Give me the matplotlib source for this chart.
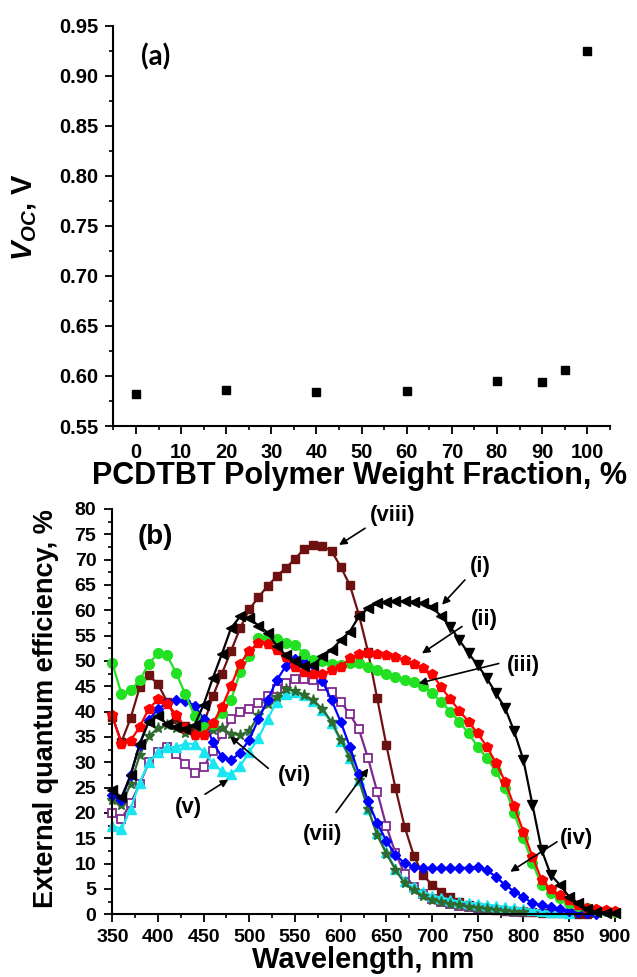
import numpy as np
import matplotlib
matplotlib.use('Agg')
import matplotlib.pyplot as plt
from matplotlib.ticker import MultipleLocator, FormatStrFormatter

plt.rcParams['font.family'] = ['Liberation Sans', 'DejaVu Sans']
plt.rcParams['font.weight'] = 'bold'
plt.rcParams['mathtext.fontset'] = 'custom'
plt.rcParams['mathtext.it'] = 'Liberation Sans:italic:bold'
plt.rcParams['mathtext.rm'] = 'Liberation Sans:bold'
plt.rcParams['mathtext.bf'] = 'Liberation Sans:bold'

# ---------------- Panel (a) data ----------------
weight_fraction = [0, 20, 40, 60, 80, 90, 95, 100]
voc = [0.582, 0.586, 0.584, 0.585, 0.595, 0.594, 0.606, 0.925]

# ---------------- Panel (b) data ----------------
wavelength = np.arange(350, 901, 10)
nan = np.nan
eqe_i = [24.5, 23.1, 27.4, 33.7, 38.0, 39.2, 37.5, 37.0, 36.6, 37.3,
         41.4, 46.6, 51.4, 56.5, 58.8, 58.4, 57.0, 55.6, 53.0, 51.1,
         49.9, 49.1, 49.2, 50.9, 52.2, 54.1, 55.8, 58.8, 60.4, 61.4,
         61.7, 61.8, 61.8, 61.7, 61.4, 60.7, 58.8, 56.8, 54.1, 51.5,
         49.2, 46.6, 43.6, 40.7, 36.1, 30.5, 21.6, 12.7, 7.8, 5.8,
         3.5, 2.2, 1.0, 0.5, 0.3, 0.2]
eqe_ii = [39.3, 33.6, 34.3, 37.0, 40.6, 42.4, 41.6, 39.4, 36.8, 35.3,
          35.4, 37.7, 40.9, 45.1, 49.5, 52.0, 53.5, 53.4, 52.2, 50.7,
          48.9, 47.8, 47.4, 47.4, 48.2, 48.9, 50.5, 51.3, 51.5, 51.4,
          51.2, 50.7, 50.1, 49.5, 48.6, 47.4, 44.9, 42.4, 40.2, 38.0,
          35.7, 33.1, 29.9, 26.2, 21.3, 16.3, 11.4, 6.8, 4.9, 3.8,
          2.8, 1.8, 1.2, 1.0, 0.9, 0.7]
eqe_iii = [49.6, 43.5, 44.2, 46.2, 49.5, 51.5, 51.1, 47.6, 43.4, 39.2,
           37.0, 37.6, 39.7, 42.3, 47.9, 50.9, 54.5, 54.7, 54.3, 53.6,
           53.2, 51.4, 50.2, 49.9, 49.5, 49.2, 49.7, 49.7, 48.9, 48.2,
           47.4, 46.8, 46.3, 45.9, 45.1, 43.6, 42.0, 40.0, 38.0, 35.7,
           33.1, 30.8, 28.2, 24.9, 19.9, 15.0, 10.1, 5.8, 4.3, 3.2,
           2.3, 1.6, 1.2, 0.9, 0.6, 0.4]
eqe_iv = [23.6, 22.5, 27.5, 33.5, 38.4, 40.5, 41.8, 42.3, 42.2, 41.2,
          38.6, 34.0, 31.0, 30.4, 31.9, 34.5, 38.5, 42.3, 46.2, 49.0,
          50.4, 49.8, 49.3, 46.0, 42.3, 38.0, 33.1, 27.7, 22.3, 18.0,
          14.5, 11.7, 10.1, 9.4, 9.1, 9.1, 9.1, 9.1, 9.1, 9.2,
          9.4, 8.7, 7.4, 5.8, 4.5, 3.4, 2.2, 1.8, 1.5, 1.0,
          0.7, 0.4, 0.2, 0.1, nan, nan]
eqe_v = [17.5, 16.8, 20.8, 26.0, 30.0, 32.0, 33.0, 33.0, 33.7, 33.6,
         32.1, 29.9, 28.2, 27.6, 29.3, 32.0, 34.8, 38.5, 42.0, 43.4,
         43.9, 43.3, 42.1, 40.3, 37.8, 34.2, 30.8, 26.5, 20.7, 16.0,
         12.3, 9.0, 6.6, 5.3, 4.4, 3.7, 3.3, 2.9, 2.5, 2.3,
         2.1, 1.9, 1.7, 1.5, 1.3, 1.1, 0.9, 0.7, 0.5, 0.4,
         0.3, nan, nan, nan, nan, nan]
eqe_vi = [22.6, 21.6, 25.7, 31.4, 35.1, 36.8, 37.3, 36.7, 35.8, 35.6,
          35.7, 36.3, 36.7, 35.6, 35.4, 36.2, 39.3, 41.5, 42.8, 44.4,
          44.1, 43.3, 42.3, 40.5, 38.0, 34.5, 31.0, 26.5, 20.8, 15.6,
          12.0, 8.8, 6.1, 4.8, 3.6, 2.9, 2.5, 2.1, 1.8, 1.5,
          1.3, 1.1, 0.9, 0.7, 0.5, 0.4, nan, nan, nan, nan,
          nan, nan, nan, nan, nan, nan]
eqe_vii = [19.9, 18.8, 21.9, 25.7, 30.0, 32.1, 33.0, 31.6, 29.6, 27.8,
           29.0, 32.3, 35.5, 38.5, 40.0, 40.5, 41.7, 43.0, 44.5, 45.7,
           46.5, 46.5, 46.2, 45.0, 43.8, 42.0, 39.5, 36.5, 30.8, 24.2,
           17.4, 12.1, 8.0, 5.4, 4.0, 3.1, 2.5, 2.0, 1.7, 1.5,
           1.3, 1.1, 0.9, 0.7, 0.5, 0.4, nan, nan, nan, nan,
           nan, nan, nan, nan, nan, nan]
eqe_viii = [39.0, 34.0, 38.7, 44.8, 47.2, 45.4, 42.0, 38.5, 37.2, 36.2,
            37.5, 43.0, 47.5, 52.0, 56.5, 60.2, 62.6, 64.8, 66.7, 68.4,
            70.1, 72.2, 72.9, 72.7, 71.7, 68.6, 65.0, 59.1, 51.8, 42.6,
            33.4, 24.9, 17.3, 11.6, 7.8, 5.8, 4.5, 3.5, 2.5, 1.8,
            1.4, 1.1, 0.9, 0.7, 0.6, 0.5, 0.4, 0.3, 0.3, 0.2,
            0.2, 0.1, 0.1, nan, nan, nan]

fig = plt.figure(figsize=(6.37, 9.77), dpi=100)
W, H = 637.0, 977.0

def style_axes(ax):
    for s in ['top', 'right']:
        ax.spines[s].set_visible(False)
    for s in ['left', 'bottom']:
        ax.spines[s].set_linewidth(1.5)
    ax.tick_params(which='major', direction='out', length=5.5, width=1.3,
                   labelsize=14.5)
    ax.tick_params(which='minor', direction='out', length=3, width=1.2)

# ---------------- Panel (a) ----------------
ax1 = fig.add_axes([113.4 / W, 1 - 426 / H, (609.8 - 113.4) / W, (426 - 25.7) / H])
style_axes(ax1)
ax1.plot(weight_fraction, voc, ls='none', marker='s', color='k', ms=5.5,
         clip_on=False)
ax1.set_xlim(-5, 105)
ax1.set_ylim(0.55, 0.95)
ax1.xaxis.set_major_locator(MultipleLocator(10))
ax1.xaxis.set_minor_locator(MultipleLocator(5))
ax1.yaxis.set_major_locator(MultipleLocator(0.05))
ax1.yaxis.set_minor_locator(MultipleLocator(0.025))
ax1.yaxis.set_major_formatter(FormatStrFormatter('%.2f'))
ax1.tick_params(axis='x', which='major', pad=7)
ax1.tick_params(axis='y', which='major', pad=5)
ax1.text(4.4, 0.919, '(a)', ha='center', va='center', fontsize=20,
         family=['Lato', 'DejaVu Sans'], fontweight='bold')
fig.text(360 / W, 1 - 484 / H, 'PCDTBT Polymer Weight Fraction, %',
         ha='center', va='baseline', fontsize=22, fontweight='bold')
fig.text(25 / W, 1 - 217 / H, r'$V_{OC}$, V', ha='center', va='center',
         rotation=90, fontsize=21, fontweight='bold')

# ---------------- Panel (b) ----------------
ax2 = fig.add_axes([112.3 / W, 1 - 914.3 / H, (614.7 - 112.3) / W, (914.3 - 509) / H])
style_axes(ax2)
ax2.tick_params(which='major', labelsize=14)

lw = 1.6
ax2.plot(wavelength, eqe_viii, color='#6E1111', marker='s', ms=5.5, lw=lw, clip_on=False)
ax2.plot(wavelength, eqe_vii, color='#7F2A8F', marker='s', ms=5.5, lw=lw,
         mfc='white', mec='#7F2A8F', mew=1.3, clip_on=False)
ax2.plot(wavelength, eqe_v, color='#19E6F0', marker='^', ms=7, lw=lw, clip_on=False)
ax2.plot(wavelength, eqe_vi, color='#2F6B2F', marker='*', ms=8, lw=lw, clip_on=False)
ax2.plot(wavelength, eqe_iv, color='#0000FF', marker='D', ms=5.5, lw=lw, clip_on=False)
ax2.plot(wavelength, eqe_iii, color='#22E022', marker='o', ms=7, lw=lw, clip_on=False)
ax2.plot(wavelength, eqe_ii, color='#FF0000', marker='p', ms=7.5, lw=lw, clip_on=False)

eqe_i_arr = np.array(eqe_i)
down = (wavelength >= 720) & (wavelength <= 830)
ax2.plot(wavelength, eqe_i_arr, color='k', lw=lw, clip_on=False)
ax2.plot(wavelength[~down], eqe_i_arr[~down], ls='none', marker='<', ms=7,
         color='k', clip_on=False)
ax2.plot(wavelength[down], eqe_i_arr[down], ls='none', marker='v', ms=7,
         color='k', clip_on=False)

ax2.set_xlim(350, 900)
ax2.set_ylim(0, 80)
ax2.xaxis.set_major_locator(MultipleLocator(50))
ax2.xaxis.set_minor_locator(MultipleLocator(25))
ax2.yaxis.set_major_locator(MultipleLocator(5))
ax2.yaxis.set_minor_locator(MultipleLocator(2.5))
ax2.tick_params(axis='x', which='major', pad=5)
ax2.tick_params(axis='y', which='major', pad=6)

ax2.text(397.3, 74.4, '(b)', ha='center', va='center', fontsize=20, fontweight='bold')

arrow_kw = dict(arrowstyle='-|>', color='k', lw=1.2, mutation_scale=11,
                shrinkA=0, shrinkB=0)
annotations = [
    ('(viii)', (656.7, 78.8), (626.7, 76.2), (598.2, 72.9)),
    ('(i)', (752.5, 68.6), (736.0, 66.0), (711.0, 61.1)),
    ('(ii)', (757.5, 58.1), (732.8, 56.8), (689.0, 51.5)),
    ('(iii)', (799.6, 49.2), (773.0, 49.5), (685.4, 45.6)),
    ('(iv)', (858.0, 15.0), (836.8, 14.3), (785.7, 8.4)),
    ('(vii)', (580.5, 15.7), (594.9, 20.1), (630.3, 28.8)),
    ('(vi)', (549.0, 27.3), (520.8, 28.8), (478.8, 35.1)),
    ('(v)', (433.4, 21.0), (451.5, 23.7), (477.0, 26.6)),
]
for label, tpos, tail, head in annotations:
    ax2.text(tpos[0], tpos[1], label, ha='center', va='center', fontsize=16,
             fontweight='bold')
    ax2.annotate('', xy=head, xytext=tail, arrowprops=arrow_kw)

fig.text(363 / W, 1 - 968 / H, 'Wavelength, nm', ha='center', va='baseline',
         fontsize=21, fontweight='bold')
fig.text(46 / W, 1 - 708.5 / H, 'External quantum efficiency, %', ha='center',
         va='center', rotation=90, fontsize=19.5, fontweight='bold')

fig.savefig('out.png', dpi=100, facecolor='white')
